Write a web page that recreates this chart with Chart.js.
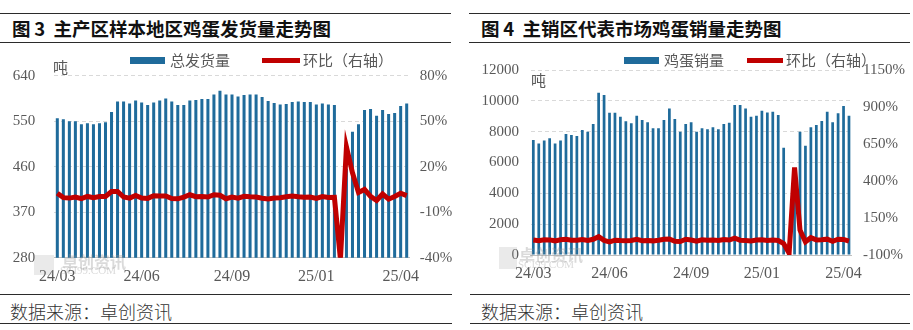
<!DOCTYPE html>
<html>
<head>
<meta charset="utf-8">
<script src="https://cdn.jsdelivr.net/npm/chart.js@4.4.1/dist/chart.umd.min.js"></script>
<style>
  body { margin: 0; width: 913px; height: 330px; background: #fff; position: relative; overflow: hidden; font-family: "Noto Sans CJK SC", sans-serif; }
  .abs { position: absolute; white-space: nowrap; line-height: 1; }
  .rule { position: absolute; height: 0; border-top: 1.6px solid #2b2b2b; }
  .title { font-size: 18.5px; font-weight: 700; color: #111; }
  .legend { font-size: 15px; color: #595959; }
  .unit { font-size: 15px; color: #595959; }
  .foot { font-size: 18px; color: #333; font-weight: 300; }
  .wm { color: rgba(150,150,150,0.35); }
  .box { position: absolute; overflow: hidden; }
</style>
</head>
<body>

<!-- left panel -->
<div class="rule" style="left:0;top:13px;width:451px"></div>
<div class="abs title" style="left:12px;top:19px">图&thinsp;3&nbsp; 主产区样本地区鸡蛋发货量走势图</div>
<div class="rule" style="left:0;top:42px;width:451px"></div>

<div class="box" style="left:0;top:45px;width:452px;height:245px"><canvas id="c3" width="470" height="245"></canvas></div>
<div class="abs" style="left:130px;top:57px;width:35px;height:6.5px;background:#1f6b9b"></div>
<div class="abs legend" style="left:170px;top:52px">总发货量</div>
<div class="abs" style="left:262px;top:58px;width:38px;height:5px;background:#c00000"></div>
<div class="abs legend" style="left:303px;top:52px">环比（右轴）</div>
<div class="abs unit" style="left:53px;top:59px">吨</div>
<div class="abs wm" style="left:34px;top:255px;width:20px;height:20px;background:rgba(170,170,170,0.25)"></div>
<div class="abs wm" style="left:62px;top:253px;font-size:16px;font-weight:700">卓创资讯</div>
<div class="abs wm" style="left:60px;top:265px;font-size:11px;font-family:'Liberation Serif',serif">SCI99.COM</div>

<div class="rule" style="left:0;top:294px;width:452px"></div>
<div class="abs foot" style="left:10px;top:302px">数据来源：卓创资讯</div>
<div class="rule" style="left:0;top:323px;width:452px"></div>

<!-- right panel -->
<div class="rule" style="left:469px;top:13px;width:441px"></div>
<div class="abs title" style="left:481px;top:19px">图&thinsp;4&nbsp; 主销区代表市场鸡蛋销量走势图</div>
<div class="rule" style="left:469px;top:42px;width:441px"></div>

<div class="box" style="left:456px;top:45px;width:457px;height:245px"><canvas id="c4" width="457" height="245"></canvas></div>
<div class="abs" style="left:624px;top:57px;width:35px;height:6.5px;background:#1f6b9b"></div>
<div class="abs legend" style="left:664px;top:52px">鸡蛋销量</div>
<div class="abs" style="left:747px;top:58px;width:36px;height:5px;background:#c00000"></div>
<div class="abs legend" style="left:786px;top:52px">环比（右轴）</div>
<div class="abs unit" style="left:531px;top:72px">吨</div>
<div class="abs wm" style="left:499px;top:247px;width:18px;height:22px;background:rgba(170,170,170,0.25)"></div>
<div class="abs wm" style="left:519px;top:246px;font-size:16px;font-weight:700">卓创资讯</div>
<div class="abs wm" style="left:518px;top:259px;font-size:11px;font-family:'Liberation Serif',serif">SCI99.COM</div>

<div class="rule" style="left:470px;top:294px;width:440px"></div>
<div class="abs foot" style="left:481px;top:302px">数据来源：卓创资讯</div>
<div class="rule" style="left:470px;top:323px;width:440px"></div>

<script>
// weekly dates (yy/mm/dd)
const weeks = ['24/03/07','24/03/14','24/03/21','24/03/28','24/04/04','24/04/11','24/04/18','24/04/25','24/05/02','24/05/09',
  '24/05/16','24/05/23','24/05/30','24/06/06','24/06/13','24/06/20','24/06/27','24/07/04','24/07/11','24/07/18',
  '24/07/25','24/08/01','24/08/08','24/08/15','24/08/22','24/08/29','24/09/05','24/09/12','24/09/19','24/09/26',
  '24/10/03','24/10/10','24/10/17','24/10/24','24/10/31','24/11/07','24/11/14','24/11/21','24/11/28','24/12/05',
  '24/12/12','24/12/19','24/12/26','25/01/02','25/01/09','25/01/16','25/01/23','25/01/30','25/02/06','25/02/13',
  '25/02/20','25/02/27','25/03/06','25/03/13','25/03/20','25/03/27','25/04/03','25/04/10','25/04/17'];

// 图3 总发货量 (吨) and 环比 (%)
const shipTons = [556,554,550,550,544,546,544,546,548,568, 589,589,585,591,587,582,587,591,595,589,
  582,582,591,592,594,594,603,610,603,603, 599,602,603,603,598,590,586,583,584,588,
  589,588,588,583,585,583,582,343,456,529, 544,572,574,561,572,564,566,580,585];
const shipMoM = [2.5,-0.4,-0.7,0,-1.1,0.4,-0.4,0.4,0.4,3.6, 3.7,0,-0.7,1.0,-0.7,-0.9,0.9,0.7,0.7,-1.0,
  -1.2,0,1.5,0.2,0.3,0,1.5,1.2,-1.1,0, -0.7,0.5,0.2,0,-0.8,-1.3,-0.7,-0.5,0.2,0.7,
  0.2,-0.2,0,-0.9,0.3,-0.3,-0.2,-41,33,16, 3,5,0.4,-2.3,2,-1.4,0.4,2.5,0.9];

// 图4 鸡蛋销量 (吨) and 环比 (%)
const salesTons = [7460,7240,7420,7570,7240,7420,7850,7780,7720,8110, 8000,8500,10530,10380,9230,9230,8970,8670,8540,9040,
  8760,8610,8220,8220,8760,9510,8820,8000,8500,8610, 8000,8220,8150,8280,8150,8500,8580,9730,9730,9510,
  8970,9040,9360,9250,9300,9080,6960,800,4730,8000, 7090,8280,8430,8690,9300,8610,9190,9660,9040];
const salesMoM = [2,-3,2.5,2,-4.3,2.5,5.8,-0.9,-0.8,5, -1.3,6.3,24,-1.4,-11,0,-2.8,-3.3,-1.5,5.9,
  -3.1,-1.7,-4.5,0,6.6,8.6,-7.3,-9.3,6.3,1.3, -7.1,2.7,-0.9,1.6,-1.6,4.3,0.9,13.4,0,-2.3,
  -5.7,0.8,3.5,-1.2,0.5,-2.4,-23,-88,491,69, -11,17,1.8,3.1,7,-7.4,6.7,5.1,-6.4];

const tickLabels = ['24/03','24/06','24/09','25/01','25/04'];
const tickIdx3 = [0,14,29,43,57];
const tickIdx4 = [0,14,29,42,57];

const BLUE = '#1f6b9b', RED = '#c00000', GREY = '#595959';
const serif = "'Liberation Serif', serif";

function makeChart(id, bars, mom, barName, tickIdx, cfg) {
  return new Chart(document.getElementById(id), {
    data: {
      labels: weeks,
      datasets: [
        { type: 'line', label: '环比（右轴）', data: mom, yAxisID: 'y1', borderColor: RED, borderWidth: 5,
          pointRadius: 0, tension: 0, order: 0 },
        { type: 'bar', label: barName, data: bars, yAxisID: 'y', backgroundColor: BLUE,
          barPercentage: 0.5, categoryPercentage: 1, order: 1 }
      ]
    },
    options: {
      responsive: false,
      animation: false,
      layout: { padding: { left: 0, right: 0, top: cfg.top, bottom: cfg.bottom } },
      plugins: { legend: { display: false }, tooltip: { enabled: false } },
      scales: {
        x: {
          grid: { display: false, drawTicks: false },
          border: { color: '#bfbfbf' },
          ticks: {
            autoSkip: false, maxRotation: 0, minRotation: 0, align: 'center', padding: 9, color: GREY,
            font: { family: serif, size: 16 },
            callback: (v, i) => { const k = tickIdx.indexOf(i); return k >= 0 ? tickLabels[k] : ''; }
          },
          afterFit: s => { s.height = 30; }
        },
        y: {
          position: 'left', min: cfg.min, max: cfg.max,
          grid: { color: '#d9d9d9', drawTicks: false },
          border: { display: false, dash: [4, 3] },
          ticks: { stepSize: cfg.step, padding: cfg.lpad, color: GREY, font: { family: serif, size: 15 },
            callback: v => String(v) },
          afterFit: s => { s.width = cfg.lw; }
        },
        y1: {
          position: 'right', min: cfg.min1, max: cfg.max1,
          grid: { display: false, drawTicks: false },
          border: { display: false },
          ticks: { stepSize: cfg.step1, padding: cfg.rpad, color: GREY, font: { family: serif, size: 15 },
            callback: v => v + '%' },
          afterFit: s => { s.width = cfg.rw; }
        }
      }
    }
  });
}

makeChart('c3', shipTons, shipMoM, '总发货量', tickIdx3,
  { top: 30.7, bottom: 2.3, min: 280, max: 640, step: 90, min1: -40, max1: 80, step1: 30,
    lw: 54.3, rw: 60.3, lpad: 19, rpad: 10 });
makeChart('c4', salesTons, salesMoM, '鸡蛋销量', tickIdx4,
  { top: 25, bottom: 5, min: 0, max: 12000, step: 2000, min1: -100, max1: 1150, step1: 250,
    lw: 74.6, rw: 61.3, lpad: 11.6, rpad: 11.3 });
</script>
</body>
</html>
